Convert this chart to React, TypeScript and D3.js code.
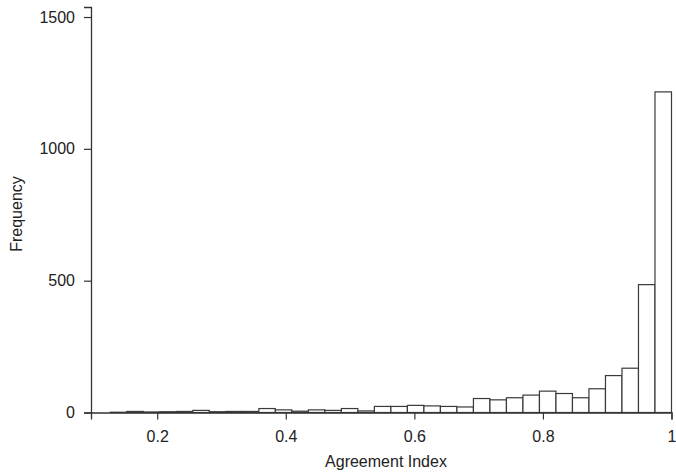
import React, { useRef, useEffect } from "react";
import * as d3 from "d3";

// histogram of agreement index, 34 equal bins ending at 1
const binStart = 0.127;
const binEnd = 1;
const counts = [
  1, 4, 2, 3, 4, 8, 3, 4, 4, 15, 10, 5, 10, 8, 15, 6, 23, 23, 27, 25, 23, 21,
  53, 48, 56, 66, 81, 72, 56, 90, 140, 168, 485, 1216,
];
const xTicks = [0.2, 0.4, 0.6, 0.8, 1];
const yTicks = [0, 500, 1000, 1500];

const width = 676;
const height = 473;

const App = () => {
  const svgRef = useRef<SVGSVGElement>(null);

  useEffect(() => {
    const svg = d3.select(svgRef.current);
    svg.selectAll("*").remove();

    const x = d3.scaleLinear().domain([0.097, 1]).range([91, 671.5]);
    const y = d3.scaleLinear().domain([0, 1538]).range([412.5, 7]);
    const binW = (binEnd - binStart) / counts.length;
    const bins = counts.map((c, i) => ({
      x0: binStart + i * binW,
      x1: binStart + (i + 1) * binW,
      n: c,
    }));

    const ink = "#333";
    const font = "Liberation Sans, Arial, sans-serif";

    svg
      .append("g")
      .selectAll("rect")
      .data(bins)
      .join("rect")
      .attr("x", (d) => x(d.x0))
      .attr("width", (d) => x(d.x1) - x(d.x0))
      .attr("y", (d) => y(d.n))
      .attr("height", (d) => y(0) - y(d.n))
      .attr("fill", "#fff")
      .attr("stroke", "#3a3a3a")
      .attr("stroke-width", 1.2);

    const xAxis = svg
      .append("g")
      .attr("transform", `translate(0,${y(0)})`)
      .call(
        d3
          .axisBottom(x)
          .tickValues(xTicks)
          .tickSizeOuter(0)
          .tickSize(7)
          .tickFormat((d) => (d === 1 ? "1" : d3.format(".1f")(d as number)))
      );
    xAxis.select(".domain").attr("stroke", ink).attr("stroke-width", 1.3);
    xAxis.selectAll(".tick line").attr("stroke", ink).attr("stroke-width", 1.2);
    xAxis.selectAll(".tick text").attr("y", 29).attr("dy", 0);

    const yAxis = svg
      .append("g")
      .attr("transform", `translate(${x(0.097)},0)`)
      .call(
        d3
          .axisLeft(y)
          .tickValues(yTicks)
          .tickSizeOuter(0)
          .tickSize(7)
          .tickFormat(d3.format("d"))
      );
    yAxis.select(".domain").attr("stroke", ink).attr("stroke-width", 1.3);
    yAxis.selectAll(".tick line").attr("stroke", ink).attr("stroke-width", 1.2);
    yAxis.selectAll(".tick text").attr("x", -16);

    svg.selectAll("g").attr("font-size", null).attr("font-family", null);
    svg
      .selectAll(".tick text")
      .attr("fill", "#222")
      .style("font-size", "16px")
      .style("font-family", font);

    svg
      .append("text")
      .attr("x", 386)
      .attr("y", 467)
      .attr("text-anchor", "middle")
      .attr("fill", "#222")
      .style("font-size", "16px")
      .style("font-family", font)
      .text("Agreement Index");

    svg
      .append("text")
      .attr("transform", "translate(22,214) rotate(-90)")
      .attr("text-anchor", "middle")
      .attr("fill", "#222")
      .style("font-size", "16px")
      .style("font-family", font)
      .text("Frequency");
  }, []);

  return (
    <svg
      ref={svgRef}
      width={width}
      height={height}
      style={{ position: "absolute", left: 0, top: 0, background: "#fff" }}
    />
  );
};

export default App;
